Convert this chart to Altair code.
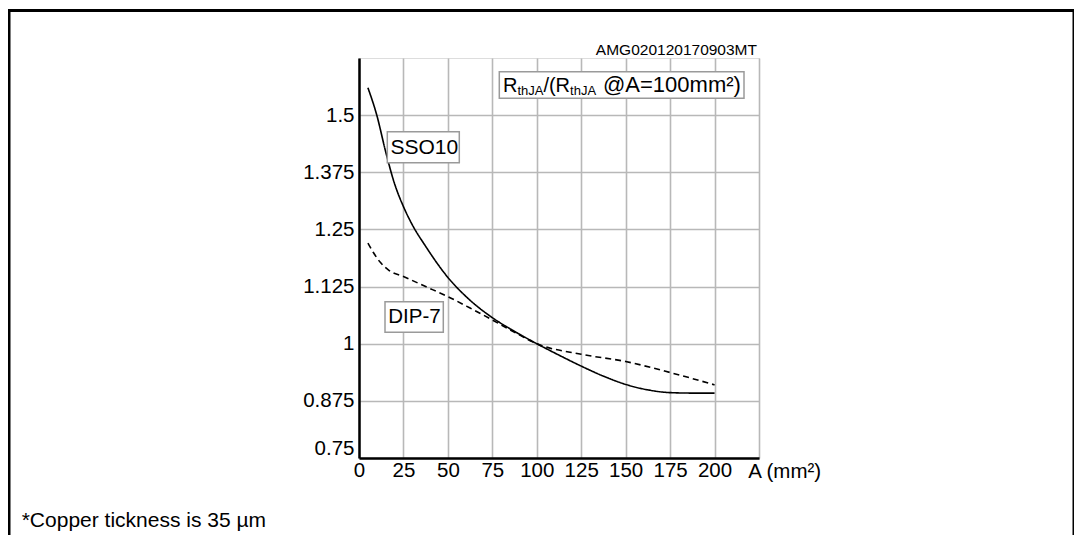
import altair as alt
import pandas as pd

# SSO10 (solid) normalised thermal resistance vs copper area
sso_area = [5, 10, 15, 20, 25, 30, 37.5, 50, 62.5, 75, 87.5, 100, 112.5, 125, 137.5, 150, 162.5, 175, 187.5, 200]
sso_val = [1.56, 1.50, 1.42, 1.35, 1.30, 1.26, 1.213, 1.145, 1.095, 1.057, 1.027, 1.0, 0.975, 0.951, 0.929, 0.911, 0.899, 0.893, 0.892, 0.892]

# DIP-7 (dashed)
dip_area = [5, 8, 12, 17, 25, 37.5, 50, 62.5, 75, 87.5, 100, 125, 150, 175, 200]
dip_val = [1.22, 1.20, 1.178, 1.16, 1.147, 1.125, 1.103, 1.078, 1.052, 1.025, 1.0, 0.977, 0.961, 0.937, 0.91]

x_grid = [0, 25, 50, 75, 100, 125, 150, 175, 200, 225]
y_ticks = [0.75, 0.875, 1.0, 1.125, 1.25, 1.375, 1.5]

FONT = "Liberation Sans"

df = pd.DataFrame(
    {"A": sso_area + dip_area,
     "R": sso_val + dip_val,
     "pkg": ["SSO10"] * len(sso_area) + ["DIP-7"] * len(dip_area)}
)
one = pd.DataFrame({"k": [0]})

xs = alt.Scale(domain=[0, 225], nice=False, zero=False)
ys = alt.Scale(domain=[0.75, 1.625], nice=False, zero=False)

lines = alt.Chart(df).mark_line(color="black", strokeWidth=1.6, interpolate="monotone").encode(
    x=alt.X("A:Q", scale=xs,
            axis=alt.Axis(values=x_grid, title=None, labelExpr="datum.value > 200 ? '' : datum.value + ''",
                          labelFontSize=20.5, labelFont=FONT, labelColor="black", labelPadding=2,
                          ticks=False, domainColor="black", domainWidth=2.5,
                          grid=True, gridColor="#b8b8b8", gridWidth=1.6, labelFlush=False)),
    y=alt.Y("R:Q", scale=ys,
            axis=alt.Axis(values=y_ticks, title=None, labelExpr="datum.value + ''",
                          labelFontSize=20.5, labelFont=FONT, labelColor="black", labelPadding=5,
                          ticks=False, domainColor="black", domainWidth=2.5,
                          grid=True, gridColor="#b8b8b8", gridWidth=1.6, labelFlush=True)),
    detail="pkg:N",
    strokeDash=alt.StrokeDash("pkg:N", scale=alt.Scale(domain=["SSO10", "DIP-7"], range=[[1, 0], [6, 4]]),
                              legend=None),
)

frame = alt.Chart(one).mark_rect(filled=False, stroke="black", strokeWidth=3).encode(
    x=alt.value(-350), x2=alt.value(715), y=alt.value(-47.5), y2=alt.value(560)
)


def box(x1, x2, y1, y2):
    return alt.Chart(one).mark_rect(fill="white", stroke="#9a9a9a", strokeWidth=1.5).encode(
        x=alt.value(x1), x2=alt.value(x2), y=alt.value(y1), y2=alt.value(y2)
    )


def txt(s, x, y, size=20, align="left"):
    return alt.Chart(one).mark_text(text=s, font=FONT, fontSize=size, align=align,
                                    baseline="alphabetic", color="black").encode(
        x=alt.value(x), y=alt.value(y)
    )


annots = [
    box(140.3, 385, 13.7, 40.3),
    txt("R", 144, 33.7),
    txt("thJA", 158.4, 37, 13),
    txt("/(R", 184.4, 33.7),
    txt("thJA", 211.1, 37, 13),
    txt("@A=100mm²)", 244, 33.7, 22),
    box(28.3, 100.3, 73.7, 104.7),
    txt("SSO10", 31.5, 96.3, 21),
    box(26, 84.3, 243.7, 274.3),
    txt("DIP-7", 29.3, 265.3, 20.5),
    txt("AMG020120170903MT", 398, -3, 15.5, "right"),
    txt("A (mm²)", 389.3, 420, 20.5),
    txt("*Copper tickness is 35 µm", -337.3, 468.7, 21),
]

chart = alt.layer(frame, lines, *annots).properties(
    width=400, height=400,
    autosize=alt.AutoSizeParams(type="none"),
    padding={"left": 351, "top": 50, "right": 315, "bottom": 77},
).configure_view(stroke="black", strokeWidth=1.5).configure(background="white")

chart.save("out.html", embed_options={"renderer": "svg", "actions": False})
